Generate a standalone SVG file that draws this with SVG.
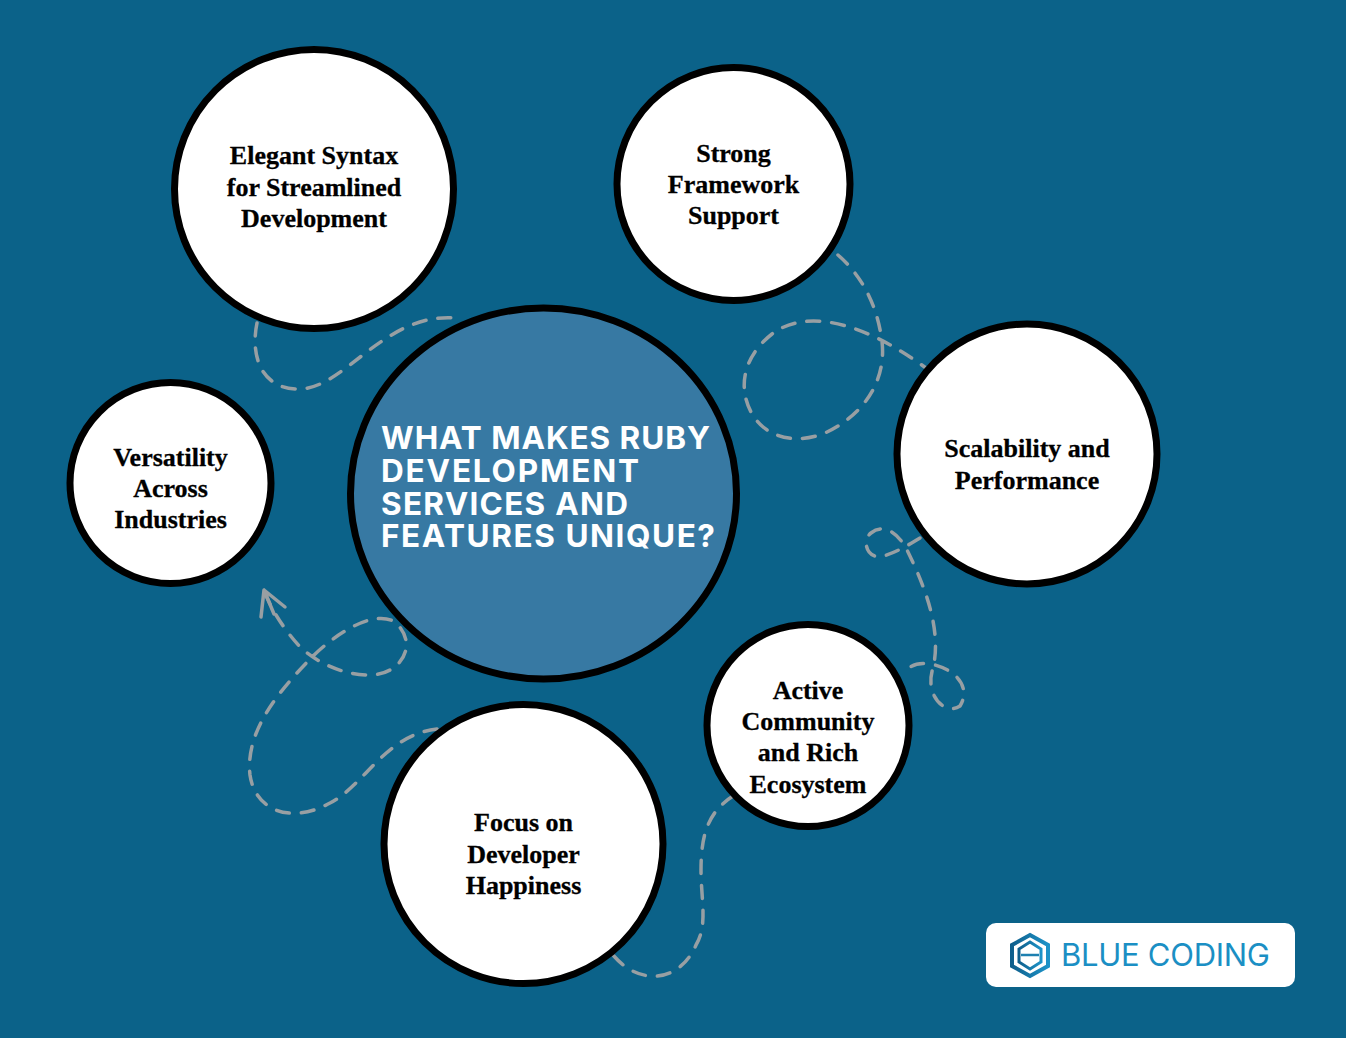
<svg xmlns="http://www.w3.org/2000/svg" width="1346" height="1038" viewBox="0 0 1346 1038">
<style>
.c{fill:#fff;stroke:#000;stroke-width:7}
.t{font-family:"Liberation Serif",serif;font-weight:700;font-size:26px;fill:#000;text-anchor:middle;stroke:#000;stroke-width:.3px}
.h{font-family:Inter,"Liberation Sans",sans-serif;font-weight:700;font-size:31.5px;fill:#fff}
.d{fill:none;stroke:#989fa3;stroke-width:3.5;stroke-linecap:round;stroke-linejoin:round;stroke-dasharray:13 12}
.a{fill:none;stroke:#989fa3;stroke-width:3.5;stroke-linecap:round;stroke-linejoin:round}
</style>
<defs><linearGradient id="g" x1="0" x2="1" y1="0" y2="0"><stop offset="0" stop-color="#0f5f8c"/><stop offset="1" stop-color="#1d93c8"/></linearGradient></defs>
<rect width="1346" height="1038" fill="#0b6289"/>
<g id="connectors">
<path class="d" d="M838 255C862 276 876 304 881 335C889 377 866 414 825 433C795 445 765 438 751 412C737 385 745 355 772 334C805 309 860 320 926 368"/>
<path class="d" d="M257 323C250 357 262 390 300 389C345 388 385 312 456 318"/>
<path class="d" d="M920 538C905 547 895 553 880 557C866 557 862 540 871 533C885 522 900 535 908 552C925 587 942 630 933 668C924 695 945 716 960 706C970 690 960 672 935 665C920 662 912 663 902 674"/>
<path class="d" d="M733 796C708 812 701 835 701 870C701 900 708 925 696 945C680 982 640 987 613 955"/>
<path class="d" d="M437 729C385 735 365 785 330 803C290 825 255 810 250 775C245 730 280 690 313 656C340 630 375 610 395 622C420 645 400 675 370 675C345 675 320 665 300 647C285 630 272 612 264 590"/>
<path class="a" d="M261 617L264 590L285 607M264 590L274 614"/>
</g>
<g id="n1"><circle class="c" cx="314" cy="189" r="139.5"/><text class="t" x="314" y="164">Elegant Syntax</text><text class="t" x="314" y="196">for Streamlined</text><text class="t" x="314" y="227">Development</text></g>
<g id="n2"><circle class="c" cx="733.5" cy="184" r="116.5"/><text class="t" x="733.5" y="162">Strong</text><text class="t" x="733.5" y="193">Framework</text><text class="t" x="733.5" y="224">Support</text></g>
<g id="n3"><circle class="c" cx="1027" cy="454" r="130"/><text class="t" x="1027" y="457">Scalability and</text><text class="t" x="1027" y="489">Performance</text></g>
<g id="n4"><circle class="c" cx="808" cy="725.5" r="101"/><text class="t" x="808" y="699">Active</text><text class="t" x="808" y="730">Community</text><text class="t" x="808" y="761">and Rich</text><text class="t" x="808" y="793">Ecosystem</text></g>
<g id="n5"><circle class="c" cx="523.5" cy="844" r="139.5"/><text class="t" x="523.5" y="831">Focus on</text><text class="t" x="523.5" y="863">Developer</text><text class="t" x="523.5" y="894">Happiness</text></g>
<g id="n6"><circle class="c" cx="170.5" cy="483" r="100.5"/><text class="t" x="170.5" y="466">Versatility</text><text class="t" x="170.5" y="497">Across</text><text class="t" x="170.5" y="528">Industries</text></g>
<g id="center"><ellipse cx="543.5" cy="493.5" rx="193" ry="185.5" fill="#3779a3" stroke="#000" stroke-width="7"/><text class="h" x="381" y="449" textLength="329">WHAT MAKES RUBY</text><text class="h" x="381" y="482" textLength="258">DEVELOPMENT</text><text class="h" x="381" y="515" textLength="247">SERVICES AND</text><text class="h" x="381" y="547" textLength="334">FEATURES UNIQUE?</text></g>
<g id="logo"><rect x="986" y="923" width="309" height="64" rx="10" fill="#fff"/>
<path d="M1030 935L1048 945V966L1030 976L1012 966V945Z" fill="none" stroke="url(#g)" stroke-width="4"/>
<path d="M1030 942L1041 949V962L1030 969L1019 962V949Z" fill="none" stroke="url(#g)" stroke-width="3"/>
<path d="M1021 955H1039" stroke="#1d80b0" stroke-width="2.5"/>
<text x="1061" y="966" font-family="Inter,'Liberation Sans',sans-serif" font-weight="400" font-size="31" textLength="209" fill="#1b8fc4">BLUE CODING</text></g>
</svg>
